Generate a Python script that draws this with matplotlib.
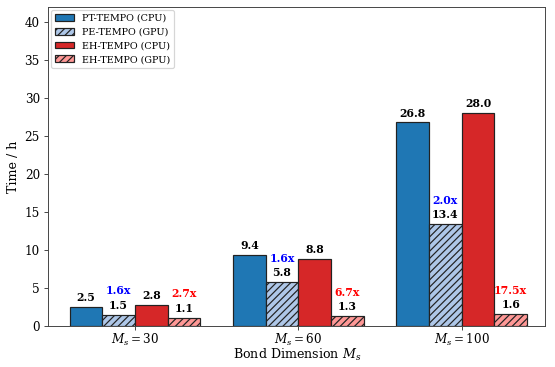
import matplotlib
matplotlib.use("Agg")
import matplotlib.pyplot as plt
import numpy as np

plt.rcParams.update({"font.family": "DejaVu Serif", "mathtext.fontset": "dejavuserif"})

groups = [r"$M_s = 30$", r"$M_s = 60$", r"$M_s = 100$"]
pt_cpu = [2.5, 9.4, 26.8]
pe_gpu = [1.5, 5.8, 13.4]
eh_cpu = [2.8, 8.8, 28.0]
eh_gpu = [1.1, 1.3, 1.6]
pe_speedup = ["1.6x", "1.6x", "2.0x"]
eh_speedup = ["2.7x", "6.7x", "17.5x"]

# drawn at 6.4in wide, scaled down to 555 px
fig, ax = plt.subplots(figsize=(6.4, 6.4 * 367 / 555), dpi=555 / 6.4)
x = np.arange(len(groups))
w = 0.2
series = [
    ("PT-TEMPO (CPU)", pt_cpu, "#1f77b4", None),
    ("PE-TEMPO (GPU)", pe_gpu, "#aec7e8", "////"),
    ("EH-TEMPO (CPU)", eh_cpu, "#d62728", None),
    ("EH-TEMPO (GPU)", eh_gpu, "#ff9896", "////"),
]
for i, (lab, vals, col, hatch) in enumerate(series):
    bars = ax.bar(x + (i - 1.5) * w, vals, w, label=lab, color=col, hatch=hatch,
                  edgecolor="#222222", lw=1.0)
    for b, v in zip(bars, vals):
        ax.text(b.get_x() + b.get_width() / 2, v + 0.5, f"{v:.1f}", ha="center", va="bottom",
                fontsize=9, fontweight="bold")

for j in range(len(groups)):
    ax.text(x[j] - 0.5 * w, pe_gpu[j] + 2.4, pe_speedup[j], ha="center", va="bottom",
            fontsize=9, fontweight="bold", color="blue")
    ax.text(x[j] + 1.5 * w, eh_gpu[j] + 2.4, eh_speedup[j], ha="center", va="bottom",
            fontsize=9, fontweight="bold", color="red")

ax.set_xticks(x)
ax.set_xticklabels(groups, fontsize=10)
ax.set_xlim(-0.53, 2.51)
ax.set_ylim(0, 42)
ax.set_yticks(range(0, 41, 5))
ax.tick_params(axis="y", labelsize=10)
ax.tick_params(axis="x", pad=1.5)
ax.tick_params(colors="#444444", labelcolor="black")
for s in ax.spines.values():
    s.set_color("#444444")
ax.set_ylabel("Time / h", fontsize=10.5)
ax.set_xlabel(r"Bond Dimension $M_s$", fontsize=10.5, labelpad=-1)
ax.legend(loc="upper left", fontsize=8, handlelength=2.0, borderaxespad=0.3)
fig.subplots_adjust(left=0.087, right=0.982, top=0.981, bottom=0.112)
fig.savefig("out.png")
